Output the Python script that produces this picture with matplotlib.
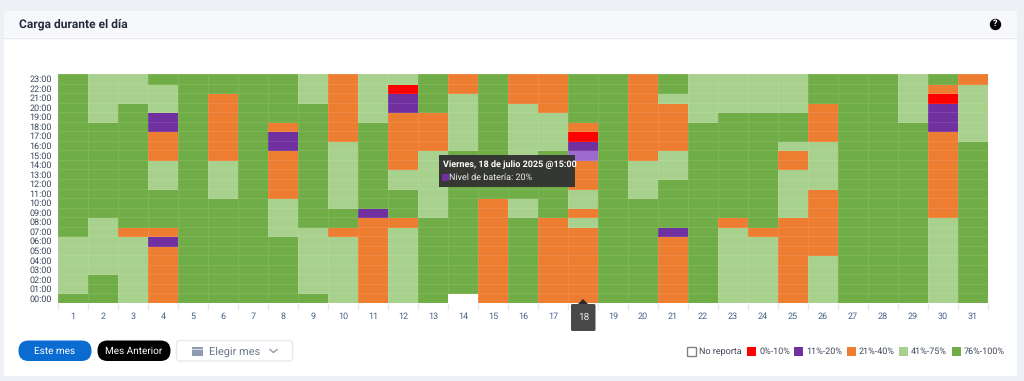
import matplotlib
matplotlib.use("Agg")
import matplotlib.pyplot as plt
from matplotlib.colors import ListedColormap, BoundaryNorm
from matplotlib.patches import FancyBboxPatch, Rectangle, Polygon
import numpy as np

plt.rcParams['font.family'] = ['Roboto', 'DejaVu Sans']
plt.rcParams['text.hinting'] = 'no_hinting'
plt.rcParams['text.hinting_factor'] = 1

# one string per day, first letter is 23:00 and last letter is 00:00
# W no report, R 0-10, P 11-20, H hovered 11-20, O 21-40, L 41-75, G 76-100
day_levels = [
    "GGGGGGGGGGGGGGGGGLLLLLLG",
    "LLLLLGGGGGGGGGGLLLLLLGGG",
    "LLLGGGGGGGGGGGGGOLLLLLLL",
    "GLLLPPOOOLLLGGGGOPOOOOOO",
    "GGGGGGGGGGGGGGGGGGGGGGGG",
    "GGOOOOOOOLLLLGGGGGGGGGGG",
    "GGGGGGGGGGGGGGGGGGGGGGGG",
    "GGGGGOPPOOOOOLLLLGGGGGGG",
    "LLLGGGGGGGGGGGGGLLLLLLLG",
    "OOOOOOOLLLLLLLGGOLLLLLLL",
    "LLLLLGGGGGGGGGPOOOOOOOOO",
    "LRPPOOOOOOLLGGGOLLLLLLLL",
    "GGGGOOOOLLLLLLLGGGGGGGGG",
    "OOLLLLLLGGGGGGGGGGGGGGGW",
    "GGGGGGGGGGGGGOOOOOOOOOOO",
    "OOOLLLLLLGGGGLLGGGGGGGGG",
    "OOOOLLLLGGGGGGGOOOOOOOOO",
    "GGGGGORPHOOOLLOLOOOOOOOO",
    "GGGGGGGGGGGGGGGGGGGGGGGG",
    "OOOOOOOOOLLLLGGGGGGGGGGG",
    "GGLOOOOOLLLGGGGGPOOOOOOO",
    "LLLLLGGGGGGGGGGGGGGGGGGG",
    "LLLLGGGGGGGGGGGOLLLLLLLL",
    "LLLLGGGGGGGGGGGGOLLLLLLL",
    "LLLLGGGLOOLLLLLOOOOOOOOO",
    "GGGOOOOLLLLLOOOOOOOLLLLL",
    "GGGGGGGGGGGGGGGGGGGGGGGG",
    "GGGGGGGGGGGGGGGGGGGGGGGG",
    "LLLLLGGGGGGGGGGGGGGGGGGG",
    "GORPPPOOOOOOOOOLLLLLLLLL",
    "OLLLLLLGGGGGGGGGGGGGGGGG",
]
days = list(range(1, 32))
hours = ["%02d:00" % h for h in range(24)]

level_codes = "WRPHOLG"
level_colors = ["#ffffff", "#ff0000", "#7030a0", "#9d6bd0", "#ed7d31", "#a9d18e", "#70ad47"]
legend_names = ["No reporta", "0%-10%", "11%-20%", "21%-40%", "41%-75%", "76%-100%"]
legend_colors = ["#ffffff", "#ff0000", "#7030a0", "#ed7d31", "#a9d18e", "#70ad47"]
legend_box_x = [687, 747, 794, 847, 899, 952]

W, H = 1024, 381
fig = plt.figure(figsize=(W / 100, H / 100), dpi=100, facecolor="#edf0f5")

# page chrome, drawn in pixel coordinates
bg = fig.add_axes([0, 0, 1, 1], zorder=0)
bg.set_xlim(0, W)
bg.set_ylim(H, 0)
bg.axis("off")
bg.add_patch(Rectangle((4, 11), 1013, 365, fc="white", ec="none"))
bg.add_patch(Rectangle((4, 11), 1013, 26, fc="#f7f8fb", ec="none"))
bg.plot([4, 1017], [37.5, 37.5], color="#e6e8ee", lw=1)
bg.text(19, 24, "Carga durante el día", fontsize=8.95, fontweight="bold", color="#242c3d", va="center")
bg.plot([994.7], [23.7], "o", ms=8.2, color="black", mew=0)
bg.text(994.7, 23.9, "?", fontsize=6.2, fontweight="bold", color="white", ha="center", va="center")

# heatmap
ax = fig.add_axes([58 / W, 1 - 303 / H, 930 / W, 229 / H], zorder=1)
grid = np.array([[level_codes.index(c) for c in reversed(d)] for d in day_levels]).T
cmap = ListedColormap(level_colors)
norm = BoundaryNorm(np.arange(-0.5, 7.5), cmap.N)
x_edges = np.arange(len(days) + 1)
y_edges = np.arange(len(hours) + 1)
ax.pcolormesh(x_edges, y_edges, grid, cmap=cmap, norm=norm, edgecolors=(1, 1, 1, 0.1), linewidth=0.6)
ax.set_xlim(0, len(days))
ax.set_ylim(0, len(hours))
for s in ax.spines.values():
    s.set_visible(False)
ax.set_xticks(x_edges)
ax.set_xticklabels([])
ax.tick_params(axis="x", length=5, width=1, color="#e6e8ee")
ax.set_yticks(y_edges[:-1] + 0.5)
ax.set_yticklabels(hours, fontsize=6.2, color="#3d4658")
ax.tick_params(axis="y", length=0, pad=4.5)
for i, d in enumerate(days):
    if d != 18:
        ax.annotate(str(d), (i + 0.5, 0), xytext=(0, -10), textcoords="offset points", ha="center", va="center",
                    fontsize=6.8, color="#46618a", annotation_clip=False)

# overlay: tooltip, day marker, buttons, legend
top = fig.add_axes([0, 0, 1, 1], zorder=2)
top.set_xlim(0, W)
top.set_ylim(H, 0)
top.axis("off")
top.patch.set_alpha(0)

top.add_patch(Rectangle((439, 155), 136, 32, fc="#333333", ec="none", alpha=0.97))
top.text(443, 165, "Viernes, 18 de julio 2025 @15:00", fontsize=6.5, fontweight="bold", color="white", va="center")
top.add_patch(Rectangle((442, 174), 7, 7, fc="#7030a0", ec="none"))
top.text(449, 177.5, "Nivel de batería: 20%", fontsize=6.35, color="#eeeeee", va="center")

top.add_patch(FancyBboxPatch((571, 304), 24.5, 27, boxstyle="round,pad=0,rounding_size=1.5", fc="#484848", ec="none"))
top.add_patch(Polygon([[578, 304], [588, 304], [583, 299]], fc="#2b2b2b", ec="none"))
top.text(583.3, 317.5, "18", fontsize=7.4, color="#eeeeee", ha="center", va="center")

top.add_patch(FancyBboxPatch((18.5, 340.5), 73, 20.5, boxstyle="round,pad=0,rounding_size=10", fc="#0a6bd1", ec="none"))
top.text(55, 351, "Este mes", fontsize=7.4, color="white", ha="center", va="center")
top.add_patch(FancyBboxPatch((97.5, 340.5), 73, 20.5, boxstyle="round,pad=0,rounding_size=10", fc="black", ec="none"))
top.text(134, 351, "Mes Anterior", fontsize=7.4, color="white", ha="center", va="center")
top.add_patch(FancyBboxPatch((176.5, 340.5), 116, 20.5, boxstyle="round,pad=0,rounding_size=3", fc="white", ec="#e6e9ef", lw=1))
top.add_patch(Rectangle((191.5, 346.5), 11, 9.5, fc="#8f9bb0", ec="none"))
top.plot([191.5, 202.5], [348.8, 348.8], color="white", lw=0.5)
top.text(209, 351.5, "Elegir mes", fontsize=8.15, color="#6e788a", va="center")
top.plot([270, 273.5, 277], [349.5, 352.5, 349.5], color="#8f9bb0", lw=1)

for i, name in enumerate(legend_names):
    x0 = legend_box_x[i]
    ec = "#808080" if i == 0 else "none"
    top.add_patch(Rectangle((x0, 347), 9, 9, fc=legend_colors[i], ec=ec, lw=1))
    top.text(x0 + 12, 351.5, name, fontsize=6.35, color="#3d4658", va="center")

fig.savefig("out.png", dpi=100, facecolor=fig.get_facecolor())
